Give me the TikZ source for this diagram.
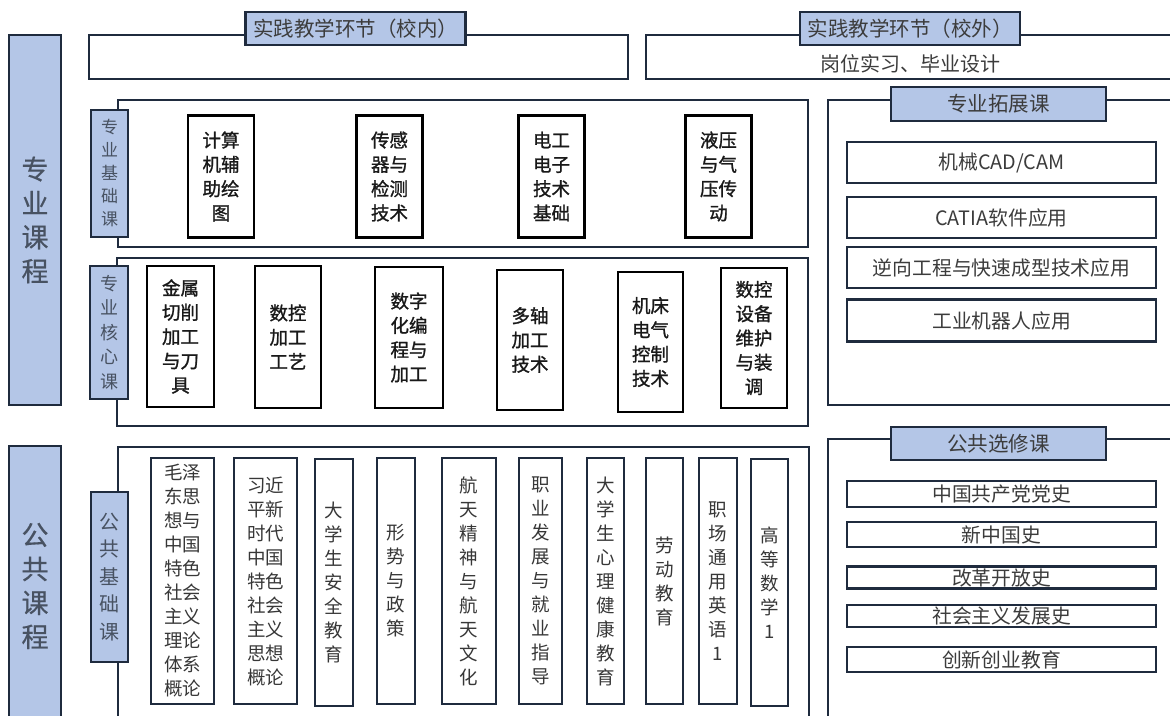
\documentclass[tikz,border=0pt]{standalone}
\usepackage{fontspec}
\setmainfont{Noto Sans CJK SC}
\newfontfamily\crsfont{Noto Sans CJK SC}[FakeBold=1.2]
\newfontfamily\labfont{Noto Sans CJK SC}[FakeBold=0.5]
\definecolor{navy}{RGB}{31,43,62}
\definecolor{lblue}{RGB}{180,198,231}
\definecolor{labtxt}{RGB}{72,82,98}
\definecolor{hdtxt}{RGB}{60,60,60}
\definecolor{crstxt}{RGB}{25,25,25}
\definecolor{pubtxt}{RGB}{55,55,55}
\tikzset{
  frame/.style={draw=navy, line width=2.3pt},
  colbox/.style={draw=navy, fill=lblue, line width=2.4pt, inner sep=0pt, align=center, text=labtxt},
  hdbox/.style={draw=navy, fill=lblue, line width=2.4pt, inner sep=0pt, align=center, text=hdtxt, font=\fontsize{20.5}{22}\selectfont},
  course/.style={draw=black, fill=white, line width=2.6pt, inner sep=0pt, align=center, text=crstxt, font=\crsfont\fontsize{18.5}{24.3}\selectfont},
  pub/.style={draw=navy, fill=white, line width=2.4pt, inner sep=0pt, align=center, text=pubtxt, font=\fontsize{18.5}{24}\selectfont},
  item/.style={draw=navy, fill=white, line width=2.4pt, inner sep=0pt, align=center, text=hdtxt, font=\fontsize{19.8}{22}\selectfont},
}
\begin{document}
\begin{tikzpicture}[x=1pt,y=-1pt]
\clip (0,0) rectangle (1170,715);
\fill[white] (0,0) rectangle (1170,715);

% ---------- left columns ----------
\node[colbox, minimum width=52, minimum height=370, font=\labfont\fontsize{27}{34}\selectfont] (zykc) at (35,220) {专\\业\\课\\程};
\node[colbox, minimum width=52, minimum height=280, font=\labfont\fontsize{27}{34}\selectfont] (ggkc) at (35,586) {公\\共\\课\\程};

% ---------- top practice frames ----------
\draw[frame] (89,35) rectangle (628,79);
\node[hdbox, minimum width=220, minimum height=33] (hd1) at (355.5,28.5) {实践教学环节（校内）};
\draw[frame] (1175,35) -- (646,35) -- (646,79) -- (1175,79);
\node[hdbox, minimum width=220, minimum height=33] (hd2) at (910,28.5) {实践教学环节（校外）};
\node[text=hdtxt, font=\fontsize{20}{22}\selectfont] (gw) at (910,64) {岗位实习、毕业设计};

% ---------- 专业基础课 ----------
\draw[frame] (118,100) rectangle (808,247);
\node[colbox, minimum width=37, minimum height=127, font=\fontsize{17}{23}\selectfont] (zyjc) at (109.5,173.5) {专\\业\\基\\础\\课};
\node[course, minimum width=66, minimum height=122] (b1) at (221,176.5) {计算\\机辅\\助绘\\图};
\node[course, minimum width=66, minimum height=122] (b2) at (389.5,176.5) {传感\\器与\\检测\\技术};
\node[course, minimum width=66, minimum height=122] (b3) at (551.5,176.5) {电工\\电子\\技术\\基础};
\node[course, minimum width=66, minimum height=122] (b4) at (718.5,176.5) {液压\\与气\\压传\\动};

% ---------- 专业核心课 ----------
\draw[frame] (117,258) rectangle (808,426);
\node[colbox, minimum width=38, minimum height=133, font=\fontsize{18}{24.5}\selectfont] (zyhx) at (109,332.5) {专\\业\\核\\心\\课};
\node[course, minimum width=67, minimum height=141] (k1) at (180.5,336.5) {金属\\切削\\加工\\与刀\\具};
\node[course, minimum width=66, minimum height=142] (k2) at (288,337) {数控\\加工\\工艺};
\node[course, minimum width=68, minimum height=141] (k3) at (409,337.5) {数字\\化编\\程与\\加工};
\node[course, minimum width=66, minimum height=140] (k4) at (530,340) {多轴\\加工\\技术};
\node[course, minimum width=65, minimum height=140] (k5) at (650.5,342) {机床\\电气\\控制\\技术};
\node[course, minimum width=66, minimum height=140] (k6) at (754,338) {数控\\设备\\维护\\与装\\调};

% ---------- 专业拓展课 ----------
\draw[frame] (1175,100) -- (828,100) -- (828,405) -- (1175,405);
\node[hdbox, minimum width=215, minimum height=34] (tz) at (998.5,104) {专业拓展课};
\node[item, minimum width=309, minimum height=41] (t1) at (1001.5,162.5) {机械CAD/CAM};
\node[item, minimum width=309, minimum height=41] (t2) at (1001.5,217.5) {CATIA软件应用};
\node[item, minimum width=309, minimum height=41] (t3) at (1001.5,267.5) {逆向工程与快速成型技术应用};
\node[item, minimum width=309, minimum height=42] (t4) at (1001.5,320.5) {工业机器人应用};

% ---------- 公共基础课 ----------
\draw[frame] (118,720) -- (118,447) -- (809,447) -- (809,720);
\node[colbox, minimum width=37, minimum height=170, font=\fontsize{20}{27.5}\selectfont] (ggjc) at (109.5,577) {公\\共\\基\\础\\课};
\node[pub, minimum width=63, minimum height=246] (p1) at (182.5,581) {毛泽\\东思\\想与\\中国\\特色\\社会\\主义\\理论\\体系\\概论};
\node[pub, minimum width=63, minimum height=246] (p2) at (265.5,581) {习近\\平新\\时代\\中国\\特色\\社会\\主义\\思想\\概论};
\node[pub, minimum width=38, minimum height=247] (p3) at (334,582.5) {大\\学\\生\\安\\全\\教\\育};
\node[pub, minimum width=38, minimum height=246] (p4) at (396,581) {形\\势\\与\\政\\策};
\node[pub, minimum width=54, minimum height=246] (p5) at (469,581) {航\\天\\精\\神\\与\\航\\天\\文\\化};
\node[pub, minimum width=43, minimum height=246] (p6) at (540.5,581) {职\\业\\发\\展\\与\\就\\业\\指\\导};
\node[pub, minimum width=37, minimum height=246] (p7) at (605.5,581) {大\\学\\生\\心\\理\\健\\康\\教\\育};
\node[pub, minimum width=37, minimum height=246] (p8) at (664.5,581) {劳\\动\\教\\育};
\node[pub, minimum width=38, minimum height=246] (p9) at (718,581) {职\\场\\通\\用\\英\\语\\1};
\node[pub, minimum width=37, minimum height=247] (p10) at (769.5,582.5) {高\\等\\数\\学\\1};

% ---------- 公共选修课 ----------
\draw[frame] (828,720) -- (828,439) -- (1175,439);
\node[hdbox, minimum width=215, minimum height=33] (xx) at (998.5,443.5) {公共选修课};
\node[item, minimum width=309, minimum height=26] (s1) at (1001.5,494) {中国共产党党史};
\node[item, minimum width=309, minimum height=25] (s2) at (1001.5,534.5) {新中国史};
\node[item, minimum width=309, minimum height=22] (s3) at (1001.5,577.5) {改革开放史};
\node[item, minimum width=309, minimum height=22] (s4) at (1001.5,616) {社会主义发展史};
\node[item, minimum width=309, minimum height=25] (s5) at (1001.5,659.5) {创新创业教育};
\end{tikzpicture}
\end{document}
